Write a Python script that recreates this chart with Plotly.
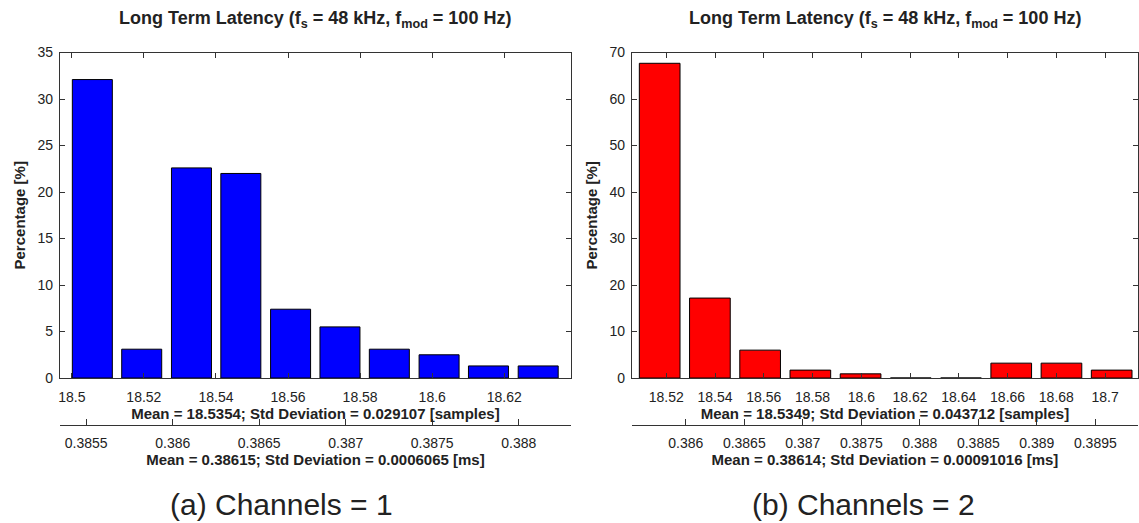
import plotly.graph_objects as go

# ---------------- data ----------------
FS_KHZ = 48  # samples -> ms conversion

left_bin_centers = [18.5057, 18.5194, 18.5332, 18.5469, 18.5607, 18.5744, 18.5881, 18.6019, 18.6156, 18.6294]
left_percent = [32.1, 3.1, 22.6, 22.0, 7.4, 5.5, 3.1, 2.5, 1.3, 1.3]

right_bin_centers = [18.5173, 18.5379, 18.5585, 18.5791, 18.5997, 18.6203, 18.6409, 18.6615, 18.6821, 18.7027]
right_percent = [67.7, 17.2, 6.0, 1.7, 0.9, 0.0, 0.0, 3.2, 3.2, 1.7]

left_tick_samples = [18.5, 18.52, 18.54, 18.56, 18.58, 18.6, 18.62]
left_tick_samples_txt = ["18.5", "18.52", "18.54", "18.56", "18.58", "18.6", "18.62"]
right_tick_samples = [18.52, 18.54, 18.56, 18.58, 18.6, 18.62, 18.64, 18.66, 18.68, 18.7]
right_tick_samples_txt = ["18.52", "18.54", "18.56", "18.58", "18.6", "18.62", "18.64", "18.66", "18.68", "18.7"]

left_tick_ms = [0.3855, 0.386, 0.3865, 0.387, 0.3875, 0.388]
left_tick_ms_txt = ["0.3855", "0.386", "0.3865", "0.387", "0.3875", "0.388"]
right_tick_ms = [0.386, 0.3865, 0.387, 0.3875, 0.388, 0.3885, 0.389, 0.3895]
right_tick_ms_txt = ["0.386", "0.3865", "0.387", "0.3875", "0.388", "0.3885", "0.389", "0.3895"]

left_xrange = [18.4967, 18.6385]
right_xrange = [18.5059, 18.7135]
left_yticks = [0, 5, 10, 15, 20, 25, 30, 35]
right_yticks = [0, 10, 20, 30, 40, 50, 60, 70]

title_text = "<b>Long Term Latency (f<sub>s</sub> = 48 kHz, f<sub>mod</sub> = 100 Hz)</b>"
left_samples_title = "<b>Mean = 18.5354; Std Deviation = 0.029107 [samples]</b>"
left_ms_title = "<b>Mean = 0.38615; Std Deviation = 0.0006065 [ms]</b>"
right_samples_title = "<b>Mean = 18.5349; Std Deviation = 0.043712 [samples]</b>"
right_ms_title = "<b>Mean = 0.38614; Std Deviation = 0.00091016 [ms]</b>"
captions = ["(a) Channels = 1", "(b) Channels = 2"]

# ---------------- layout geometry ----------------
W, H = 1139, 523
FONT = "Liberation Sans, Arial, sans-serif"

dom_left = [58 / W, 570 / W]
dom_right = [631 / W, 1138 / W]
dom_y = [(H - 381.7) / H, (H - 46) / H]
ms_axis_pos = (H - 430) / H
caption_centers = [280 / W, 863 / W]

fig = go.Figure()
fig.add_trace(go.Bar(x=left_bin_centers, y=left_percent, xaxis="x", yaxis="y",
                     marker=dict(color="#0000FF", line=dict(color="black", width=1)),
                     showlegend=False))
fig.add_trace(go.Bar(x=right_bin_centers, y=right_percent, xaxis="x2", yaxis="y2",
                     marker=dict(color="#FF0000", line=dict(color="black", width=1)),
                     showlegend=False))
# same histograms expressed in ms (invisible) so the secondary ms axes are drawn
fig.add_trace(go.Scatter(x=[c / FS_KHZ for c in left_bin_centers], y=left_percent,
                         xaxis="x3", yaxis="y", mode="markers", marker=dict(opacity=0),
                         hoverinfo="skip", showlegend=False))
fig.add_trace(go.Scatter(x=[c / FS_KHZ for c in right_bin_centers], y=right_percent,
                         xaxis="x4", yaxis="y2", mode="markers", marker=dict(opacity=0),
                         hoverinfo="skip", showlegend=False))

tickfont = dict(family=FONT, size=14, color="#222")
titlefont = dict(family=FONT, size=15, color="#222")
ytitlefont = dict(family=FONT, size=15, color="#222")

common_x = dict(showgrid=False, zeroline=False, showline=True, linecolor="#333", linewidth=1,
                mirror="ticks", ticks="inside", ticklen=5, tickcolor="#333", tickfont=tickfont,
                tickmode="array", ticklabelstandoff=6)
common_y = dict(showgrid=False, zeroline=False, showline=True, linecolor="#333", linewidth=1,
                mirror="ticks", ticks="inside", ticklen=5, tickcolor="#333", tickfont=tickfont,
                tickmode="array", ticklabelstandoff=3)
ms_x = dict(showgrid=False, zeroline=False, showline=True, linecolor="#333", linewidth=1,
            ticks="inside", ticklen=6, tickcolor="#333", tickfont=tickfont, tickmode="array",
            anchor="free", position=ms_axis_pos, side="bottom", ticklabelstandoff=5)

fig.update_layout(
    width=W, height=H,
    margin=dict(l=0, r=0, t=0, b=0),
    paper_bgcolor="white", plot_bgcolor="white",
    bargap=0.19,
    xaxis=dict(domain=dom_left, anchor="y", range=left_xrange,
               tickvals=left_tick_samples, ticktext=left_tick_samples_txt,
               title=dict(text=left_samples_title, font=titlefont, standoff=3), **common_x),
    yaxis=dict(domain=dom_y, anchor="x", range=[0, 35], tickvals=left_yticks,
               title=dict(text="<b>Percentage [%]</b>", font=ytitlefont, standoff=8),
               **common_y),
    xaxis2=dict(domain=dom_right, anchor="y2", range=right_xrange,
                tickvals=right_tick_samples, ticktext=right_tick_samples_txt,
                title=dict(text=right_samples_title, font=titlefont, standoff=3), **common_x),
    yaxis2=dict(domain=dom_y, anchor="x2", range=[0, 70], tickvals=right_yticks,
                title=dict(text="<b>Percentage [%]</b>", font=ytitlefont, standoff=8),
                **common_y),
    xaxis3=dict(overlaying="x", range=[v / FS_KHZ for v in left_xrange],
                tickvals=left_tick_ms, ticktext=left_tick_ms_txt,
                title=dict(text=left_ms_title, font=titlefont, standoff=4), **ms_x),
    xaxis4=dict(overlaying="x2", range=[v / FS_KHZ for v in right_xrange],
                tickvals=right_tick_ms, ticktext=right_tick_ms_txt,
                title=dict(text=right_ms_title, font=titlefont, standoff=4), **ms_x),
)

# panel titles
for dom in (dom_left, dom_right):
    fig.add_annotation(text=title_text, xref="paper", yref="paper",
                       x=(dom[0] + dom[1]) / 2, y=1 - 12 / H, xanchor="center", yanchor="middle",
                       showarrow=False, font=dict(family=FONT, size=18, color="#222"))

# captions
for cx, cap in zip(caption_centers, captions):
    fig.add_annotation(text=cap, xref="paper", yref="paper",
                       x=cx, y=11 / H, xanchor="center", yanchor="middle",
                       showarrow=False, font=dict(family=FONT, size=30, color="#222"))

fig.write_html("out.html")
